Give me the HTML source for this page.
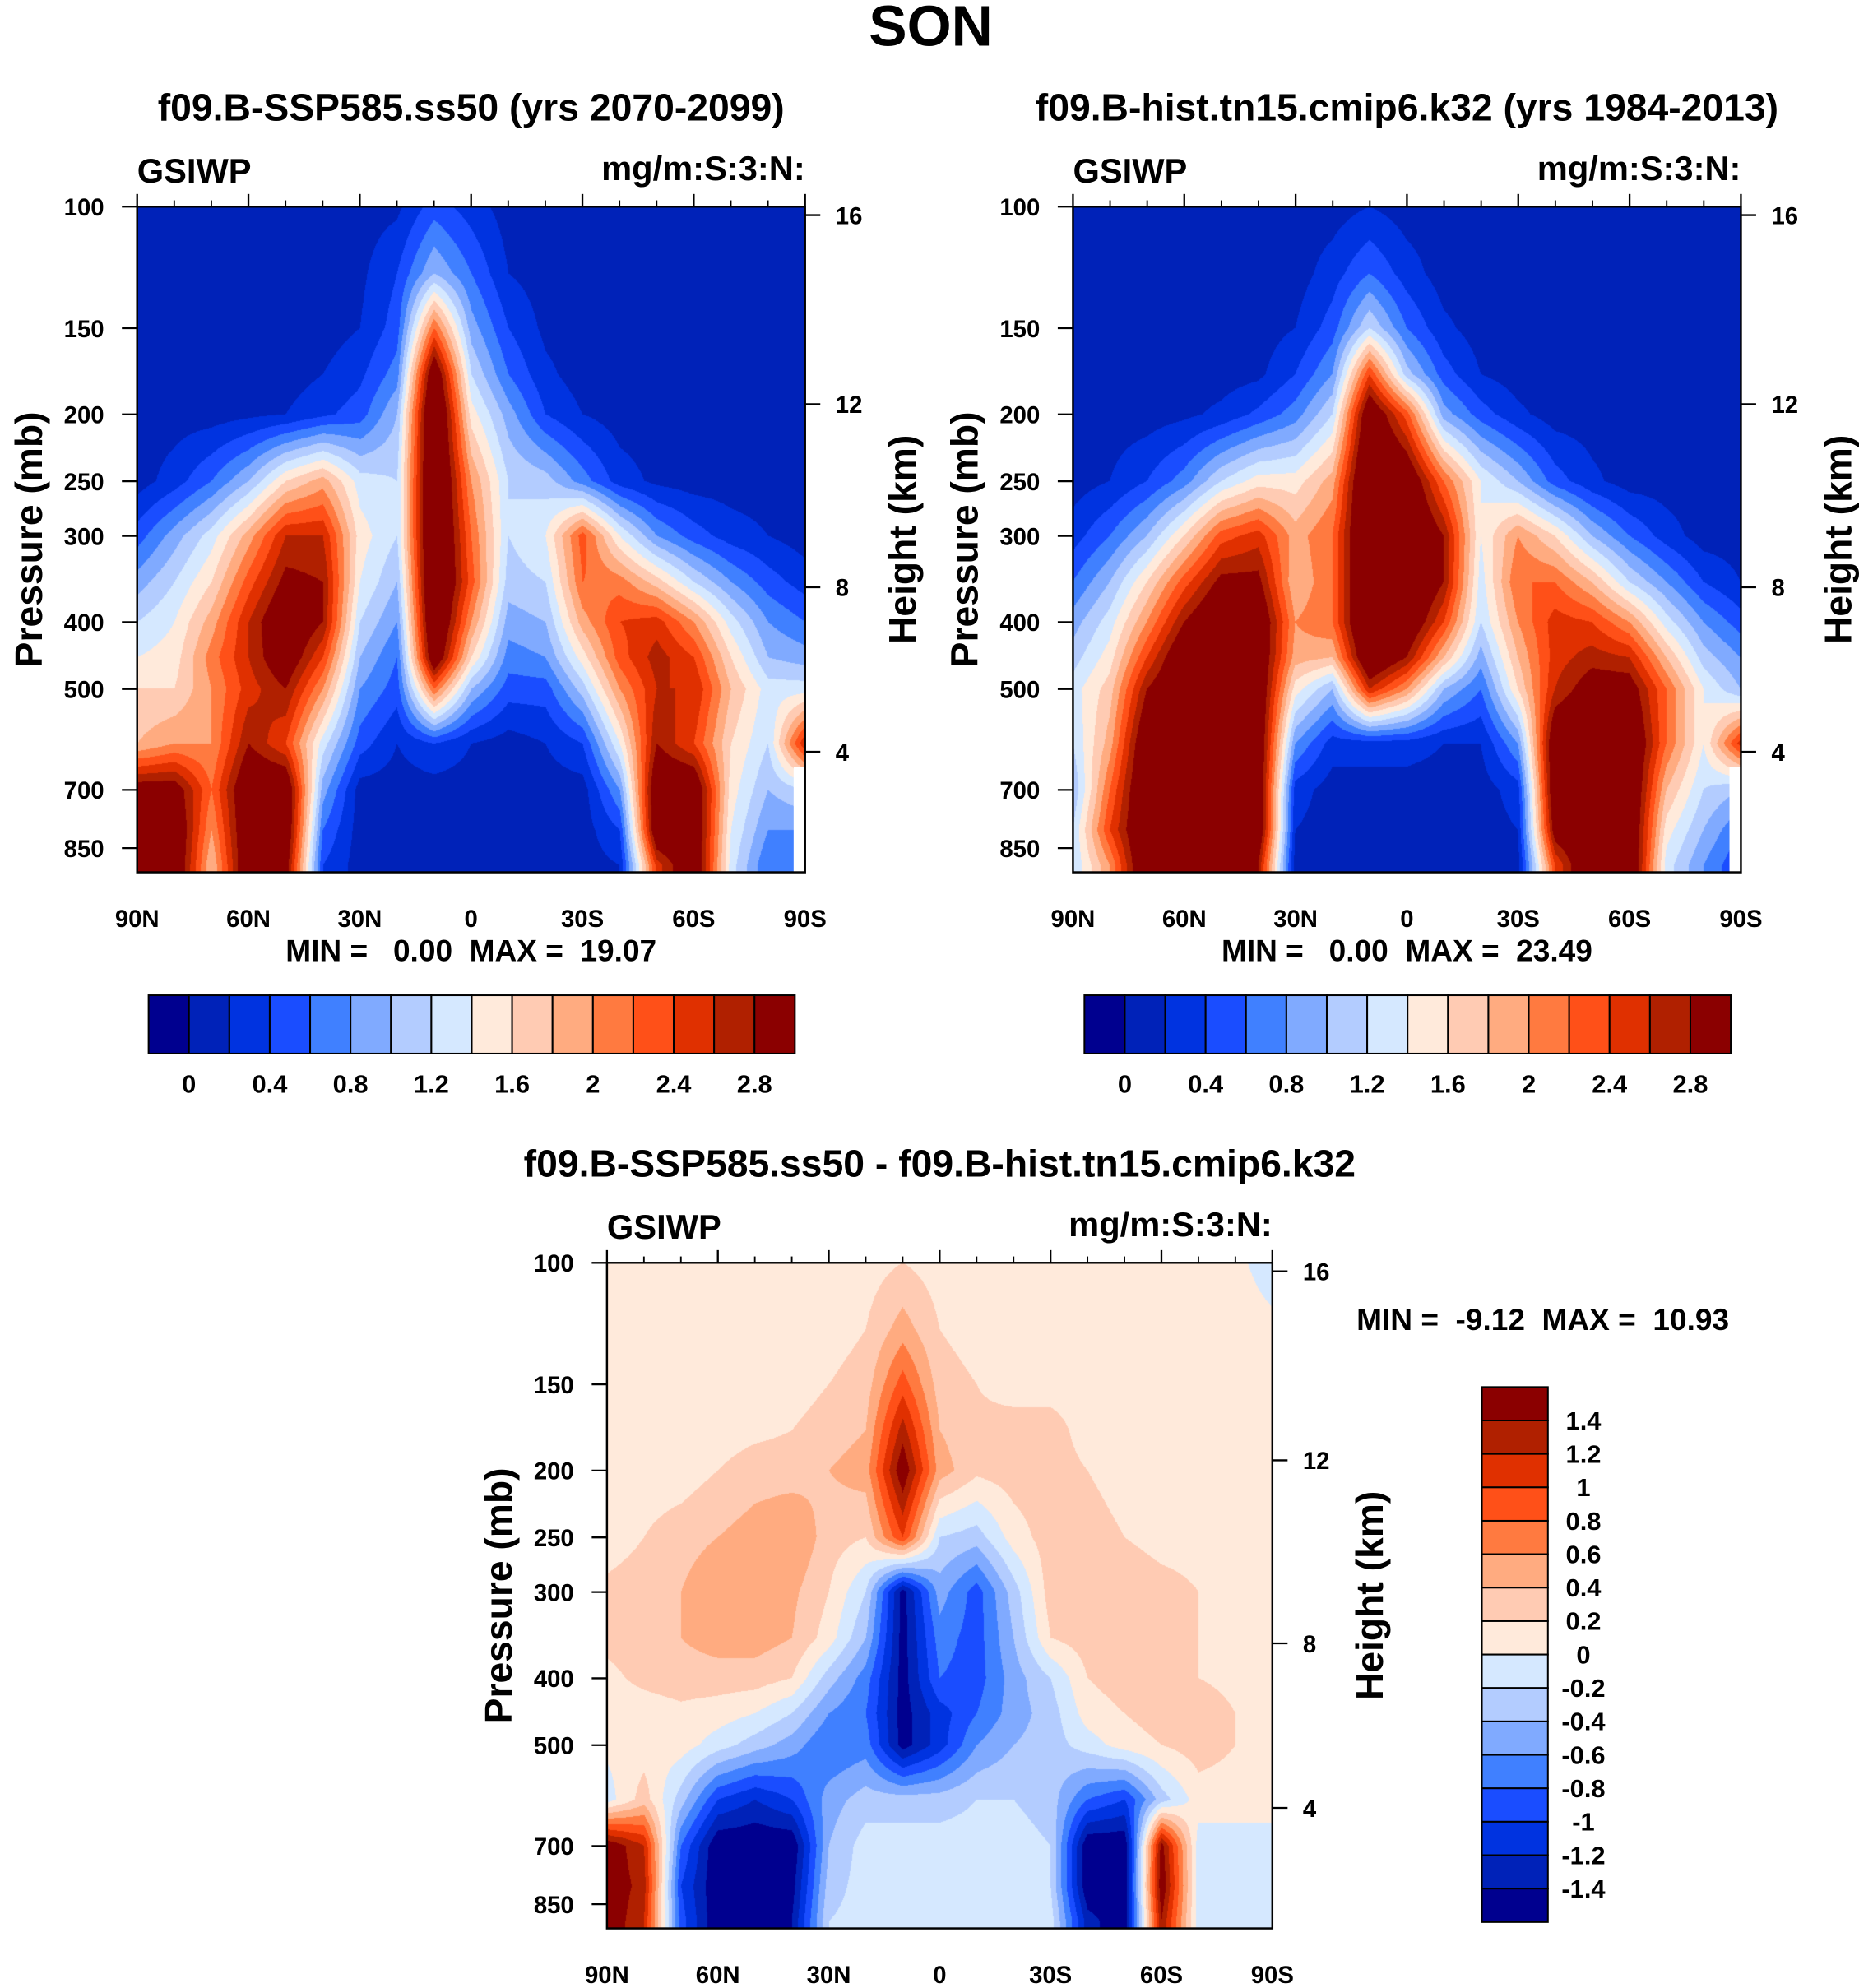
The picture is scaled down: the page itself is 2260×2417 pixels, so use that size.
<!DOCTYPE html>
<html><head><meta charset="utf-8">
<style>
html,body{margin:0;padding:0;background:#fff;}
#page{position:relative;width:2260px;height:2417px;overflow:hidden;background:#fff;}
canvas{position:absolute;}
svg{position:absolute;left:0;top:0;}
text{font-family:"Liberation Sans",sans-serif;font-weight:bold;fill:#000;}
</style></head>
<body>
<div id="page">
<svg id="ov" width="2260" height="2417" viewBox="0 0 1464 1568" preserveAspectRatio="none">
<text x="733" y="36" font-size="45" text-anchor="middle">SON</text>
</svg>
</div>
<script>
// ---- data ----
const lats = ['90N','80N','70N','60N','50N','40N','30N','20N','10N','0','10S','20S','30S','40S','50S','60S','70S','80S','90S'];
const plevs = [100,125,150,175,200,250,300,350,400,450,500,600,700,800,900];
const latTickLabels = ['90N','60N','30N','0','30S','60S','90S'];
const presTicks = [100,150,200,250,300,400,500,700,850];
const heightTicks = [16,12,8,4];
const absLevels = [0,0.2,0.4,0.6,0.8,1.0,1.2,1.4,1.6,1.8,2.0,2.2,2.4,2.6,2.8];
const absLabels = ['0','0.4','0.8','1.2','1.6','2','2.4','2.8'];
const diffLevels = [-1.4,-1.2,-1,-0.8,-0.6,-0.4,-0.2,0,0.2,0.4,0.6,0.8,1,1.2,1.4];
const diffLabels = ['1.4','1.2','1','0.8','0.6','0.4','0.2','0','-0.2','-0.4','-0.6','-0.8','-1','-1.2','-1.4'];
const colors = ['#00008f','#0022b8','#0033e0','#1a4dff','#4080ff','#80aaff','#b3ccff','#d5e8ff','#ffeadb','#ffcbb3','#ffab80','#ff7a40','#ff5018','#e03000','#b02000','#8b0000'];

const ssp = [
[.1,.1,.1,.1,.1,.1,.1,.15,.5,.3,.1,.1,.1,.1,.1,.1,.1,.1,.1],
[.1,.1,.1,.1,.1,.1,.15,.4,1.0,.6,.2,.1,.1,.1,.1,.1,.1,.1,.1],
[.1,.1,.1,.1,.1,.1,.2,.5,2.2,.9,.4,.15,.1,.1,.1,.1,.1,.1,.1],
[.1,.1,.1,.1,.1,.2,.35,.7,3.2,1.2,.6,.25,.1,.1,.1,.1,.1,.1,.1],
[.1,.1,.1,.15,.2,.35,.5,1.0,3.5,1.5,.9,.4,.2,.1,.1,.1,.1,.1,.1],
[.1,.3,.6,1.0,1.6,1.9,1.3,1.2,3.5,2.0,1.2,1.1,.7,.3,.15,.1,.1,.1,.1],
[.5,.9,1.3,1.9,2.6,2.6,1.5,1.2,3.5,2.2,1.2,1.4,2.3,1.4,.8,.5,.3,.2,.1],
[.9,1.2,1.6,2.3,2.9,2.8,1.4,1.0,3.5,2.3,1.1,1.2,2.2,2.1,1.7,1.2,.8,.5,.3],
[1.2,1.4,1.9,2.6,3.2,2.8,1.2,.8,3.4,2.0,.9,1.0,1.9,2.4,2.5,2.0,1.3,.8,.6],
[1.4,1.5,2.1,2.6,3.1,2.4,1.0,.6,3.2,1.6,.7,.8,1.5,2.3,2.7,2.4,1.6,1.0,.9],
[1.6,1.6,2.0,2.5,2.8,2.0,.8,.5,2.2,1.0,.5,.5,1.1,2.0,2.6,2.6,1.8,1.3,1.3],
[1.8,2.0,2.0,2.8,2.4,1.3,.5,.2,.4,.2,.1,.2,.4,1.4,2.8,2.4,1.6,1.2,2.6],
[3.0,3.0,2.2,3.2,3.2,.9,.1,.1,.1,.1,.1,.1,.1,.8,3.2,3.2,1.5,1.0,1.2],
[3.2,3.2,2.0,3.2,3.2,.6,.1,.1,.1,.1,.1,.1,.1,.4,3.2,3.2,1.4,.8,.8],
[3.2,3.2,1.8,3.2,3.0,.4,.1,.1,.1,.1,.1,.1,.1,.2,2.5,3.2,1.3,.6,.6]];

const hist = [
[.1,.1,.1,.1,.1,.1,.1,.1,.2,.1,.1,.1,.1,.1,.1,.1,.1,.1,.1],
[.1,.1,.1,.1,.1,.1,.1,.3,.6,.3,.1,.1,.1,.1,.1,.1,.1,.1,.1],
[.1,.1,.1,.1,.1,.1,.2,.5,1.2,.6,.25,.1,.1,.1,.1,.1,.1,.1,.1],
[.1,.1,.1,.1,.1,.15,.4,.8,2.4,1.1,.5,.2,.1,.1,.1,.1,.1,.1,.1],
[.1,.1,.1,.15,.25,.45,.7,1.2,3.2,2.3,.9,.5,.25,.1,.1,.1,.1,.1,.1],
[.1,.2,.4,.7,1.2,1.5,1.5,1.9,3.5,3.2,2.2,1.4,1.0,.5,.25,.1,.1,.1,.1],
[.3,.6,1.0,1.6,2.3,2.5,1.9,2.2,3.5,3.4,2.8,1.4,2.0,1.6,1.0,.6,.3,.1,.1],
[.6,1.0,1.6,2.3,2.9,2.9,1.8,2.2,3.5,3.4,2.8,1.3,2.2,2.2,1.8,1.2,.8,.4,.2],
[.9,1.3,2.0,2.8,3.3,3.2,2.0,2.2,3.5,3.2,2.4,1.2,2.0,2.5,2.4,2.0,1.3,.8,.5],
[1.1,1.5,2.4,3.2,3.3,3.2,1.9,1.8,3.3,2.8,1.8,.9,1.8,2.5,2.7,2.6,1.8,1.1,.8],
[1.3,1.7,2.8,3.3,3.3,3.2,1.5,1.0,2.6,2.0,1.0,.6,1.6,2.6,3.0,3.0,2.2,1.4,1.0],
[1.2,1.9,3.2,3.3,3.3,3.2,.8,.3,.3,.3,.2,.2,.8,3.2,3.3,3.3,2.2,1.4,2.5],
[1.0,2.2,3.3,3.3,3.3,3.2,.3,.1,.1,.1,.1,.1,.3,3.2,3.3,3.3,1.8,1.2,1.0],
[1.2,2.4,3.3,3.3,3.3,3.2,.2,.1,.1,.1,.1,.1,.2,3.0,3.3,3.3,1.5,1.0,.6],
[1.2,2.0,3.3,3.3,3.3,2.8,.1,.1,.1,.1,.1,.1,.1,2.4,3.3,3.3,1.3,.8,.4]];

const diff = [
[.1,.1,.1,.1,.1,.1,.1,.1,.2,.1,.1,.1,.1,.1,.1,.1,.1,.05,-.1],
[.1,.1,.1,.1,.1,.1,.1,.2,.5,.2,.1,.1,.1,.1,.1,.1,.1,.1,.05],
[.1,.1,.1,.1,.1,.1,.2,.3,.9,.3,.2,.1,.1,.1,.1,.1,.1,.1,.1],
[.1,.1,.1,.1,.15,.2,.3,.4,1.3,.4,.25,.3,.3,.1,.1,.1,.1,.1,.1],
[.1,.1,.1,.2,.3,.3,.4,.5,1.6,.5,.25,.3,.3,.2,.1,.1,.1,.1,.1],
[.1,.2,.3,.4,.5,.6,.3,.2,1.0,-.2,-.3,.1,.3,.3,.2,.1,.1,.1,.1],
[.25,.3,.4,.6,.5,.45,.2,-.2,-1.5,-.5,-.9,-.3,.3,.3,.4,.3,.2,.1,.1],
[.25,.3,.4,.5,.5,.4,.1,-.4,-1.5,-.7,-.9,-.4,.2,.3,.4,.4,.2,.1,.1],
[.15,.25,.3,.3,.3,.2,-.3,-.7,-1.5,-.8,-.9,-.5,-.2,.2,.3,.3,.2,.15,.1],
[.1,.1,.15,.1,.0,-.2,-.6,-.8,-1.5,-1.1,-.8,-.5,-.3,.1,.2,.3,.3,.2,.1],
[.05,.1,.1,-.1,-.3,-.5,-.8,-.7,-1.5,-1.1,-.6,-.4,-.3,-.1,.1,.2,.3,.2,.1],
[-.1,.3,-.3,-1.0,-1.2,-1.0,-.5,-.3,-.3,-.3,-.2,-.2,-.3,-.8,-1.0,-.3,.1,.1,.1],
[1.6,1.2,-.8,-1.6,-1.6,-1.6,-.4,-.1,-.1,-.1,-.1,-.1,-.2,-1.6,-1.6,1.5,-.1,-.1,-.1],
[1.6,1.3,-1.0,-1.6,-1.6,-1.5,-.3,-.1,-.1,-.1,-.1,-.1,-.2,-1.6,-1.6,1.6,-.1,-.1,-.1],
[1.6,1.2,-.9,-1.6,-1.6,-1.4,-.2,-.1,-.1,-.1,-.1,-.1,-.1,-1.3,-1.6,1.4,-.1,-.1,-.1]];

// ---- rendering ----
const SX = 2260/1464, SY = 2417/1568, K = 236.4;
const NS = 'http://www.w3.org/2000/svg';
const ov = document.getElementById('ov');
const page = document.getElementById('page');
function mk(tag, attrs, parent){ const e=document.createElementNS(NS,tag); for(const k in attrs) e.setAttribute(k,attrs[k]); (parent||ov).appendChild(e); return e; }
function hex(c){ return [parseInt(c.slice(1,3),16),parseInt(c.slice(3,5),16),parseInt(c.slice(5,7),16)]; }
const rgb = colors.map(hex);
function levelIndex(v, levels){ let i=0; while(i<levels.length && v>=levels[i]) i++; return i; }
function hKmToP(h){ return h<=11 ? 1013.25*Math.pow(1-2.2558e-5*h*1000,5.256) : 226.32*Math.exp(-(h-11)/6.3416); }

function drawPanel(cfg){
  const {x0,y0,w,h,grid,levels,name} = cfg;
  const yOfP = p => y0 + K*Math.log(p/100);
  const cv = document.createElement('canvas');
  
  
  const cw = Math.round(w*SX), ch = Math.round(h*SY);
  cv.width=cw; cv.height=ch;
  cv.style.left=(x0*SX)+'px'; cv.style.top=(y0*SY)+'px';
  page.insertBefore(cv, ov);
  const ctx = cv.getContext('2d');
  const img = ctx.createImageData(cw,ch);
  const lp = plevs.map(p=>Math.log(p));
  for(let j=0;j<ch;j++){
    const y = y0 + (j+0.5)/SY;
    const lgp = Math.log(100) + (y-y0)/K;
    let r=0; while(r<lp.length-2 && lgp>lp[r+1]) r++;
    let fr=(lgp-lp[r])/(lp[r+1]-lp[r]); fr=Math.max(0,Math.min(1,fr));
    for(let i=0;i<cw;i++){
      const c = ((i+0.5)/SX)/w*(lats.length-1);
      let ci=Math.min(lats.length-2,Math.floor(c)); const fc=c-ci;
      const v = (grid[r][ci]*(1-fc)+grid[r][ci+1]*fc)*(1-fr)+(grid[r+1][ci]*(1-fc)+grid[r+1][ci+1]*fc)*fr;
      const col = rgb[levelIndex(v,levels)];
      const o=(j*cw+i)*4; img.data[o]=col[0]; img.data[o+1]=col[1]; img.data[o+2]=col[2]; img.data[o+3]=255;
    }
  }
  ctx.putImageData(img,0,0);
  if(cfg.missing){ const m=mk('rect',{x:x0+w-9,y:cfg.missing,width:9,height:y0+h-cfg.missing,fill:'#fff'});   }
  const fr2 = mk('rect',{x:x0,y:y0,width:w,height:h,fill:'none',stroke:'#000','stroke-width':1.6});
  
  
  latTickLabels.forEach((lab,k)=>{
    const x = x0 + w*k/6;
    mk('line',{x1:x,x2:x,y1:y0,y2:y0-10,stroke:'#000','stroke-width':1.5});
    const t = mk('text',{x:x,y:y0+h+43,'font-size':19,'text-anchor':'middle'}); t.textContent=lab;
    
    
  });
  for(let k=0;k<18;k++){ if(k%3) { const x=x0+w*k/18; mk('line',{x1:x,x2:x,y1:y0,y2:y0-5,stroke:'#000','stroke-width':1.2}); } }
  presTicks.forEach(p=>{
    const y=yOfP(p);
    mk('line',{x1:x0,x2:x0-12,y1:y,y2:y,stroke:'#000','stroke-width':1.5});
    const t=mk('text',{x:x0-26,y:y+7,'font-size':19,'text-anchor':'end'}); t.textContent=p;
    
    
  });
  heightTicks.forEach(hk=>{
    const y=yOfP(hKmToP(hk));
    mk('line',{x1:x0+w,x2:x0+w+12,y1:y,y2:y,stroke:'#000','stroke-width':1.5});
    const t=mk('text',{x:x0+w+24,y:y+7,'font-size':19}); t.textContent=hk;
    
    
  });
  const cy=y0+h/2;
  let t=mk('text',{x:0,y:0,'font-size':30,'text-anchor':'middle',transform:`translate(${x0-75},${cy}) rotate(-90)`}); t.textContent='Pressure (mb)';
  
  
  t=mk('text',{x:0,y:0,'font-size':30,'text-anchor':'middle',transform:`translate(${x0+w+87},${cy}) rotate(-90)`}); t.textContent='Height (km)';
  
  
  t=mk('text',{x:x0,y:y0-19,'font-size':27}); t.textContent='GSIWP';
  
  
  t=mk('text',{x:x0+w,y:y0-21,'font-size':27,'text-anchor':'end'}); t.textContent='mg/m:S:3:N:';
  
  
  t=mk('text',{x:x0+w/2,y:cfg.titleY,'font-size':30,'text-anchor':'middle'}); t.textContent=cfg.title;
  
  
  t=mk('text',{x:cfg.mmX,y:cfg.mmY,'font-size':24,'text-anchor':cfg.mmAnchor,'xml:space':'preserve'}); t.textContent=cfg.minmax;
  t.setAttribute('style','white-space:pre');
  
  
}

function hColorbar(x0,y0,name){
  const bw=509/16;
  colors.forEach((c,i)=>{
    const r=mk('rect',{x:x0+i*bw,y:y0,width:bw,height:46,fill:c,stroke:'#000','stroke-width':1.3});
    
    
  });
  absLabels.forEach((l,k)=>{
    const t=mk('text',{x:x0+bw*(1+2*k),y:y0+77,'font-size':20,'text-anchor':'middle'}); t.textContent=l;
    
    
  });
}

drawPanel({x0:108,y0:163,w:526,h:525,grid:ssp,levels:absLevels,name:'ssp585',title:'f09.B-SSP585.ss50 (yrs 2070-2099)',titleY:95,minmax:'MIN =   0.00  MAX =  19.07',mmX:371,mmY:758,mmAnchor:'middle',missing:605});
drawPanel({x0:845,y0:163,w:526,h:525,grid:hist,levels:absLevels,name:'hist',title:'f09.B-hist.tn15.cmip6.k32 (yrs 1984-2013)',titleY:95,minmax:'MIN =   0.00  MAX =  23.49',mmX:1108,mmY:758,mmAnchor:'middle',missing:605});
drawPanel({x0:478,y0:996,w:524,h:525,grid:diff,levels:diffLevels,name:'difference',title:'f09.B-SSP585.ss50 - f09.B-hist.tn15.cmip6.k32',titleY:928,minmax:'MIN =  -9.12  MAX =  10.93',mmX:1215,mmY:1049,mmAnchor:'middle'});
hColorbar(117,785,'ssp585-colorbar');
hColorbar(854,785,'hist-colorbar');
(function(){
  const x0=1167,y0=1094,bh=422/16;
  for(let i=0;i<16;i++){
    const r=mk('rect',{x:x0,y:y0+i*bh,width:52,height:bh,fill:colors[15-i],stroke:'#000','stroke-width':1.3});
    
    
  }
  diffLabels.forEach((l,k)=>{
    const t=mk('text',{x:1247,y:y0+bh*(k+1)+7,'font-size':20,'text-anchor':'middle'}); t.textContent=l;
    
    
  });
})();
</script>
</body></html>
